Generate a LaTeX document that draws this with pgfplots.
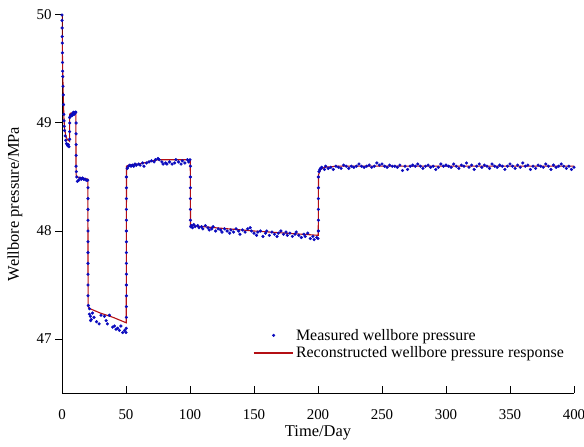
\documentclass[border=0pt]{standalone}
\usepackage{pgfplots}
\pgfplotsset{compat=1.18}
\usepackage{fontspec}
\setmainfont{Liberation Serif}
\definecolor{dotblue}{RGB}{10,10,190}
\definecolor{linered}{RGB}{180,15,20}
\pgfplotsset{
  dotleg/.style={legend image code/.code={\draw[##1] plot coordinates {(20bp,0bp)};}},
  lineleg/.style={legend image code/.code={\draw[linered, line width=1.1pt] (0pt,0pt) -- (40pt,0pt);}},
  tickaxis/.style={
    scale only axis, separate axis lines,
    axis line style={draw=none},
    major tick length=0pt, minor tick length=0pt,
    xticklabels={}, yticklabels={},
    major grid style={black, line width=1pt},
    minor grid style={black, line width=1pt},
  },
}
\begin{document}
\begin{tikzpicture}
\useasboundingbox (-62bp,-54bp) rectangle (522bp,393bp);
% inward x ticks (major, minor)
\begin{axis}[tickaxis, width=512bp, height=7bp, at={(0,0)}, anchor=south west,
  xmin=0, xmax=400, ymin=0, ymax=1, xtick={0,50,...,400}, ytick=\empty, xmajorgrids]
\end{axis}
\begin{axis}[tickaxis, width=512bp, height=4.5bp, at={(0,0)}, anchor=south west,
  xmin=0, xmax=400, ymin=0, ymax=1, xtick=\empty, minor xtick={25,75,...,375}, ytick=\empty, xminorgrids]
\end{axis}
% outward y ticks (major, minor)
\begin{axis}[tickaxis, width=7bp, height=378bp, at={(-7bp,0)}, anchor=south west,
  xmin=0, xmax=1, ymin=46.5, ymax=50, ytick={47,48,49,50}, xtick=\empty, ymajorgrids]
\end{axis}
\begin{axis}[tickaxis, width=4.5bp, height=378bp, at={(-4.5bp,0)}, anchor=south west,
  xmin=0, xmax=1, ymin=46.5, ymax=50, ytick=\empty, minor ytick={46.5,47.5,48.5,49.5}, xtick=\empty, yminorgrids]
\end{axis}
% main axis with data
\begin{axis}[
  scale only axis, width=512bp, height=378bp, at={(0,0)}, anchor=south west,
  xmin=0, xmax=400, ymin=46.5, ymax=50,
  axis lines*=left,
  axis line style={line width=0.9pt},
  tick align=inside,
  major tick length=0pt, minor tick length=0pt,
  xtick={0,50,...,400},
  ytick={47,48,49,50},
  /pgf/number format/assume math mode=true,
  ticklabel style={font=\fontsize{15}{17}\selectfont},
  xticklabel style={yshift=-13bp},
  yticklabel style={xshift=-7bp},
  xlabel={Time/Day}, ylabel={Wellbore pressure/MPa},
  every axis x label/.style={at={(axis description cs:0.5,-0.106)}, anchor=center, font=\fontsize{16.5}{19}\selectfont},
  every axis y label/.style={at={(axis description cs:-0.092,0.5)}, rotate=90, anchor=center, font=\fontsize{16.5}{19}\selectfont},
  legend style={at={(axis description cs:0.367,0.18)}, anchor=north west, draw=none, fill=none,
    font=\fontsize{16}{18}\selectfont, row sep=1bp},
  legend cell align=left,
]
\addplot[only marks, mark=*, mark size=1.4pt, color=dotblue, dotleg]
coordinates {
(0,50.0)(0.05,49.95)(0.1,49.88)(0.15,49.8)(0.2,49.74)(0.3,49.65)(0.4,49.56)(0.5,49.48)(0.6,49.43)(0.8,49.34)(1,49.26)(1.2,49.17)(1.4,49.08)(1.6,49.02)(1.8,48.97)(2,48.93)(2.5,48.88)(3,48.84)(3.5,48.81)(4,48.8)(4.5,48.79)(5,48.8)(5.5,48.78)
(6,48.85)(6,48.92)(6,49.0)(6,49.05)
(6.5,49.06)(7,49.07)(7.5,49.08)(8,49.07)(8.5,49.09)(9,49.1)(9.5,49.08)(10,49.09)(10.5,49.1)(10.8,49.1)
(11,49.0)(11,48.9)(11,48.8)(11,48.7)(11,48.6)
(11.2,48.55)(11.5,48.5)(12,48.46)(13,48.47)(14,48.49)(15,48.48)(16,48.49)(17,48.48)(18,48.48)(19,48.47)(20,48.47)
(20.3,48.4)(20.3,48.3)(20.3,48.2)(20.3,48.1)(20.3,48.0)(20.3,47.9)(20.3,47.8)(20.3,47.7)(20.3,47.6)(20.3,47.5)(20.3,47.4)
(20.6,47.31)(21.5,47.28)(21.4,47.23)(22.2,47.21)(22.8,47.18)(22.4,47.17)(23.8,47.24)(25,47.2)(27,47.16)(29,47.14)(30.5,47.22)(33.2,47.21)(34.5,47.17)(35.5,47.14)(37,47.22)(39.6,47.11)(41,47.12)(42.2,47.09)(43.5,47.1)(44.8,47.08)(46,47.12)(47.4,47.06)(49,47.08)(50,47.06)(50.2,47.1)
(50.3,47.2)(50.3,47.3)(50.3,47.4)(50.3,47.5)(50.3,47.6)(50.3,47.7)(50.3,47.8)(50.3,47.9)(50.3,48.0)(50.3,48.1)(50.3,48.2)(50.3,48.3)(50.3,48.4)(50.3,48.5)
(51,48.58)(52,48.6)(53,48.61)(54,48.6)(55,48.61)(56,48.6)(57,48.62)(58,48.61)(60,48.62)(61,48.61)(63,48.63)(64,48.6)(66,48.63)(68,48.64)(70,48.65)(72,48.64)(73,48.66)(75,48.67)(76,48.66)(78,48.64)(79,48.62)(81,48.63)(82,48.62)(84,48.64)(86,48.62)(88,48.63)(89,48.66)(91,48.64)(93,48.62)(94,48.65)(96,48.63)(98,48.66)(99,48.64)(100,48.66)
(100.3,48.6)(100.3,48.5)(100.3,48.4)(100.3,48.3)(100.3,48.2)(100.3,48.1)
(100.6,48.04)(101,48.05)(102,48.03)(103,48.06)(104,48.04)(106,48.05)(107,48.03)(109,48.04)(110,48.02)(112,48.05)(114,48.03)(115,48.01)(117,48.02)(118,48.04)(120,48.0)(122,48.02)(124,48.01)(125,47.99)(127,48.02)(129,48.0)(131,47.98)(132,48.01)(134,47.99)(136,48.02)(138,48.0)(139,47.97)(141,48.01)(143,47.99)(145,48.02)(147,48.03)(148,48.0)(150,47.98)(152,47.96)(153,47.99)(155,48.0)(157,47.95)(159,47.98)(160,48.0)(162,47.96)(164,47.99)(166,47.97)(168,47.95)(169,47.98)(171,48.0)(173,47.97)(175,47.99)(176,47.96)(178,47.98)(180,47.95)(182,47.97)(183,47.99)(185,47.96)(187,47.94)(189,47.97)(190,47.95)(192,47.98)(194,47.93)(196,47.95)(197,47.92)(199,47.94)(200,47.93)
(200.3,48.0)(200.3,48.1)(200.3,48.2)(200.3,48.3)(200.3,48.4)(200.3,48.5)
(200.8,48.55)(201.5,48.57)(202,48.58)(203,48.59)(205,48.57)(206,48.6)(208,48.58)(210,48.59)(212,48.57)(214,48.6)(216,48.59)(218,48.58)(220,48.61)(222,48.6)(224,48.58)(226,48.6)(228,48.59)(230,48.6)(232,48.62)(234,48.6)(236,48.59)(238,48.6)(240,48.61)(242,48.59)(244,48.6)(246,48.63)(248,48.61)(250,48.62)(252,48.6)(254,48.59)(256,48.61)(258,48.6)(260,48.6)(262,48.59)(264,48.61)(266,48.56)(268,48.6)(270,48.57)(272,48.6)(274,48.61)(276,48.6)(278,48.62)(280,48.6)(282,48.58)(284,48.6)(286,48.61)(288,48.59)(290,48.6)(292,48.57)(294,48.59)(296,48.62)(298,48.6)(300,48.61)(302,48.6)(304,48.59)(306,48.62)(308,48.6)(310,48.58)(312,48.61)(314,48.6)(316,48.63)(318,48.59)(320,48.61)(322,48.57)(324,48.6)(326,48.62)(328,48.59)(330,48.61)(332,48.6)(334,48.58)(336,48.62)(338,48.6)(340,48.59)(342,48.61)(344,48.6)(346,48.57)(348,48.6)(350,48.62)(352,48.6)(354,48.58)(356,48.61)(358,48.59)(360,48.63)(362,48.6)(364,48.61)(366,48.57)(368,48.6)(370,48.58)(372,48.61)(374,48.6)(376,48.59)(378,48.62)(380,48.6)(382,48.57)(384,48.61)(386,48.59)(388,48.6)(390,48.62)(392,48.6)(394,48.58)(396,48.6)(398,48.57)(400,48.59)
};
\addlegendentry{Measured wellbore pressure}
\addplot[color=linered, line width=1.1pt, no marks, lineleg]
coordinates {
(0,50.0)(0.2,49.75)(0.5,49.5)(1,49.25)(1.5,49.05)(2,48.95)(3,48.88)(4,48.85)(5.9,48.83)(6,49.08)(6.5,49.09)(10.8,49.1)(11,48.52)(12,48.5)(20.2,48.48)(20.4,47.3)(22,47.28)(30,47.24)(40,47.2)(50.2,47.15)(50.4,48.6)(52,48.61)(60,48.62)(75,48.66)(100.2,48.66)(100.4,48.05)(120,48.03)(150,48.0)(200.2,47.96)(200.4,48.52)(202,48.57)(205,48.59)(215,48.6)(400,48.6)
};
\addlegendentry{Reconstructed wellbore pressure response}
\end{axis}
\end{tikzpicture}
\end{document}
